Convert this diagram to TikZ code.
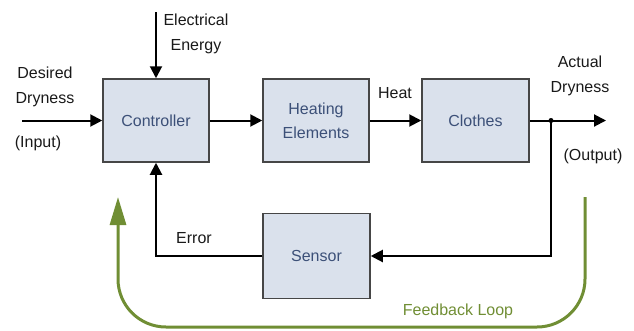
\documentclass[tikz,border=0pt]{standalone}
\usepackage{fontspec}
\setmainfont{Liberation Sans}
\usetikzlibrary{arrows.meta}
\definecolor{boxfill}{RGB}{218,225,236}
\definecolor{boxdraw}{RGB}{70,70,70}
\definecolor{boxtext}{RGB}{60,80,120}
\definecolor{loopgreen}{RGB}{112,142,52}
\tikzset{
  blk/.style={draw=boxdraw, line width=1.5pt, fill=boxfill, text=boxtext, align=center, inner sep=0pt, font=\fontsize{16}{24}\selectfont},
  lbl/.style={text=black!90, align=center, inner sep=0pt, font=\fontsize{16}{25}\selectfont},
  sig/.style={line width=2pt, -{Triangle[length=12pt,width=12pt]}},
  fb/.style={draw=loopgreen, line width=3pt, rounded corners=48pt, -{Triangle[length=28pt,width=16pt]}},
}
\begin{document}
\begin{tikzpicture}[x=1pt,y=-1pt]
\useasboundingbox (0,0) rectangle (634,330);
\node[blk, minimum width=106pt, minimum height=83pt] (ctrl) at (156,120.5) {Controller};
\node[blk, minimum width=106pt, minimum height=83pt] (heat) at (316,120.5) {Heating\\Elements};
\node[blk, minimum width=107pt, minimum height=83pt] (cloth) at (475.5,120.5) {Clothes};
\node[blk, minimum width=107pt, minimum height=85pt] (sens) at (316.5,256) {Sensor};
\coordinate (in) at (22,120.5);
\coordinate (ee) at (156,12);
\coordinate (out) at (606,120.5);
\coordinate (dot) at (551,120.5);
\draw[sig] (in) -- (ctrl.west);
\draw[sig] (ee) -- (ctrl.north);
\draw[sig] (ctrl.east) -- (heat.west);
\draw[sig] (heat.east) -- (cloth.west);
\draw[sig] (cloth.east) -- (out);
\fill (dot) circle (2.5pt);
\draw[sig] (dot) |- (sens.east);
\draw[sig] (sens.west) -| (ctrl.south);
\node[lbl] (dd) at (45,87) {Desired\\Dryness};
\node[lbl] (inp) at (38,143) {(Input)};
\node[lbl] (elec) at (196,34) {Electrical\\Energy};
\node[lbl] (heatl) at (395,93) {Heat};
\node[lbl] (ad) at (580,76) {Actual\\Dryness};
\node[lbl] (outp) at (593,156) {(Output)};
\node[lbl] (err) at (194,238) {Error};
\node[lbl, text=loopgreen] (fbl) at (458,311) {Feedback Loop};
\coordinate (g1) at (585,197);
\coordinate (g2) at (585,327);
\coordinate (g3) at (118,327);
\coordinate (g4) at (118,197);
\draw[fb] (g1) -- (g2) -- (g3) -- (g4);
\end{tikzpicture}
\end{document}
